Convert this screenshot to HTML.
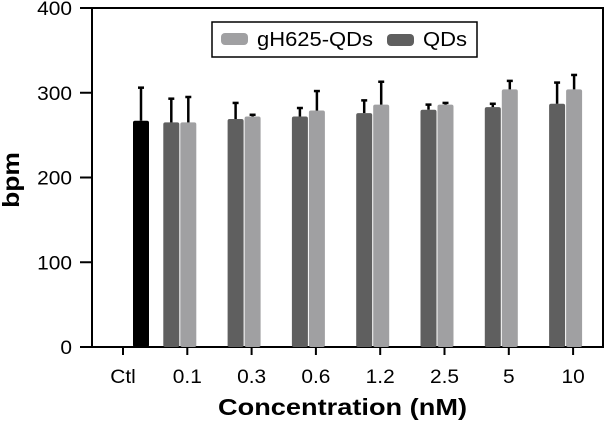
<!DOCTYPE html>
<html><head><meta charset="utf-8"><style>
body{margin:0;background:#fff;width:608px;height:426px;overflow:hidden}
svg{font-family:"Liberation Sans",Arial,sans-serif}
</style></head><body>
<svg width="608" height="426">
<g id="plot"></g>
</svg>
<script>
const categories=["Ctl","0.1","0.3","0.6","1.2","2.5","5","10"];
const ctlValue=267, ctlErr=39;
const qdsValues=[null,265,269,272,276,280,283,287];
const qdsErr=[null,28,19,10,15,6,4,25];
const ghValues=[null,265,272,279,286,286,304,304];
const ghErr=[null,30,2,23,27,2,10,17];
const yTicks=[0,100,200,300,400];
const NS="http://www.w3.org/2000/svg";
const g=document.getElementById('plot');
const x0=92,x1=603,yTop=8,yBot=347;
const y=v=>yBot-(v/400)*(yBot-yTop);
const tickX=i=>123+i*64.3;
function el(t,a,txt){const e=document.createElementNS(NS,t);for(const k in a)e.setAttribute(k,a[k]);if(txt!==undefined)e.textContent=txt;g.appendChild(e);return e;}
function stext(xp,yp,anchor,size,txt,sx,weight){
 return el('text',{x:0,y:0,transform:`translate(${xp},${yp}) scale(${sx},1)`,'text-anchor':anchor,'font-size':size,'font-weight':weight||'normal'},txt);
}
function bar(xl,v,e,col,name){
 const r=el('rect',{x:xl,y:y(v),width:16,height:yBot-y(v),fill:col,rx:2});
 
 
 const c=xl+8;
 const l=el('line',{x1:c,x2:c,y1:y(v),y2:y(v+e),stroke:'#000','stroke-width':2.5});
 
 
 el('line',{x1:c-3,x2:c+3,y1:y(v+e),y2:y(v+e),stroke:'#000','stroke-width':2.5});
}
const fr=el('rect',{x:x0,y:yTop,width:x1-x0,height:yBot-yTop,fill:'none',stroke:'#000','stroke-width':2});


yTicks.forEach(t=>{
 el('line',{x1:x0-12,x2:x0,y1:y(t),y2:y(t),stroke:'#000','stroke-width':2});
 const tx=stext(72,y(t)+7,'end',19,t,1.1);
 
 
});
categories.forEach((c,i)=>{
 const tx0=tickX(i);
 el('line',{x1:tx0,x2:tx0,y1:yBot,y2:yBot+8,stroke:'#000','stroke-width':2});
 const t=stext(tx0,383,'middle',19,c,1.1);
 
 
 if(i===0){bar(tx0+10,ctlValue,ctlErr,'#000','bar-ctl');}
 else{
  bar(tx0-24,qdsValues[i],qdsErr[i],'#5f5f5f','bar-qds-'+c);
  bar(tx0-7,ghValues[i],ghErr[i],'#a0a0a2','bar-gh625-'+c);
 }
});
const yt=el('text',{x:0,y:0,transform:'translate(19,180) rotate(-90) scale(1.15,1)','text-anchor':'middle','font-size':23,'font-weight':'bold'},'bpm');


const xt=el('text',{x:218,y:415,'font-size':23,'font-weight':'bold',textLength:249,lengthAdjust:'spacingAndGlyphs'},'Concentration (nM)');


const lg=el('rect',{x:212,y:22,width:265,height:35,fill:'#fff',stroke:'#000','stroke-width':1.5});


el('rect',{x:221,y:33,width:27,height:12,rx:4,fill:'#a0a0a2'});
const l1=el('text',{x:257,y:46,'font-size':20,textLength:116,lengthAdjust:'spacingAndGlyphs'},'gH625-QDs');


el('rect',{x:387,y:34,width:27,height:12,rx:4,fill:'#5f5f5f'});
const l2=el('text',{x:423,y:46,'font-size':20,textLength:44,lengthAdjust:'spacingAndGlyphs'},'QDs');


</script>
</body></html>
